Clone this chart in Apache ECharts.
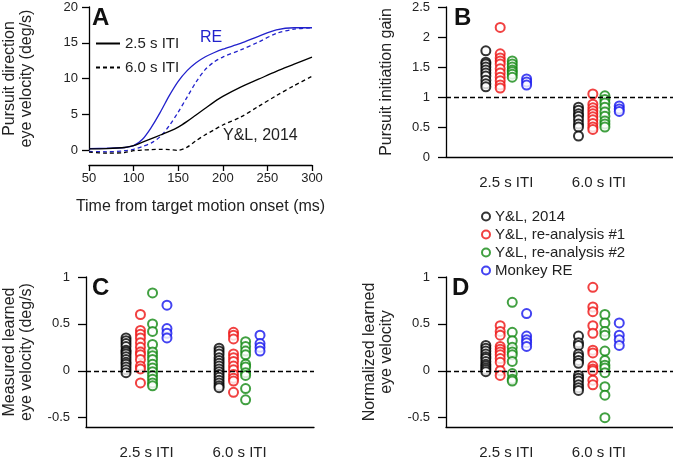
<!DOCTYPE html>
<html>
<head>
<meta charset="utf-8">
<script src="https://cdn.jsdelivr.net/npm/echarts@6/dist/echarts.min.js"></script>
<style>
html, body { margin: 0; padding: 0; background: #fff; }
#chart { width: 673px; height: 460px; }
</style>
</head>
<body>
<div id="chart"></div>
<script>
// panel A: eye velocity traces (deg/s) against time from motion onset (ms)
const timeMs = [50, 70, 90, 100, 110, 120, 130, 140, 150, 160, 170, 180, 190, 200, 220, 240, 260, 280, 300];
const reVel25 = [0.2, 0.25, 0.35, 0.6, 1.5, 3.2, 5.3, 7.6, 9.6, 11.1, 12.2, 13.0, 13.6, 14.1, 14.9, 15.9, 16.8, 17.1, 17.1];
const reVel60 = [-0.2, -0.25, -0.1, 0.1, 0.5, 1.0, 1.9, 3.4, 5.3, 7.4, 9.5, 11.2, 12.3, 13.0, 14.0, 15.1, 16.3, 16.9, 17.1];
const ylVel25 = [0.15, 0.2, 0.35, 0.6, 1.1, 1.6, 2.1, 2.6, 3.2, 4.0, 4.9, 5.8, 6.7, 7.5, 8.8, 9.9, 11.0, 12.0, 13.0];
const ylVel60 = [-0.3, -0.45, -0.35, -0.1, 0.0, 0.05, 0.1, 0.05, -0.05, 0.4, 1.3, 2.1, 2.8, 3.5, 4.6, 6.1, 7.6, 9.0, 10.3];

const itiLabels = ['2.5 s ITI', '6.0 s ITI'];
const groupNames = ['Y&L, 2014', 'Y&L, re-analysis #1', 'Y&L, re-analysis #2', 'Monkey RE'];

// panel B: pursuit initiation gain, [2.5 s ITI, 6.0 s ITI]
const gainYL = [[1.77, 1.58, 1.55, 1.5, 1.45, 1.4, 1.35, 1.28, 1.22, 1.17], [0.83, 0.78, 0.72, 0.68, 0.62, 0.55, 0.5, 0.35]];
const gainRe1 = [[2.16, 1.72, 1.65, 1.6, 1.55, 1.47, 1.4, 1.33, 1.27, 1.2, 1.15], [1.05, 0.88, 0.82, 0.77, 0.72, 0.67, 0.62, 0.56, 0.5, 0.46]];
const gainRe2 = [[1.6, 1.55, 1.5, 1.45, 1.42, 1.38, 1.33], [1.02, 0.96, 0.9, 0.83, 0.75, 0.68, 0.6, 0.55, 0.5]];
const gainMonkey = [[1.3, 1.25, 1.2], [0.85, 0.8, 0.76]];

// panel C: measured learned eye velocity (deg/s)
const measYL = [[0.35, 0.32, 0.29, 0.26, 0.22, 0.2, 0.18, 0.15, 0.12, 0.09, 0.07, 0.04, 0.01, -0.02],
  [0.24, 0.21, 0.18, 0.14, 0.11, 0.08, 0.05, 0.02, -0.01, -0.04, -0.07, -0.1, -0.13, -0.16, -0.18]];
const measRe1 = [[0.6, 0.43, 0.39, 0.35, 0.3, 0.25, 0.2, 0.17, 0.12, 0.05, 0.02, -0.13],
  [0.41, 0.38, 0.34, 0.18, 0.14, 0.1, 0.05, 0.01, -0.04, -0.08, -0.11, -0.23]];
const measRe2 = [[0.83, 0.5, 0.42, 0.28, 0.2, 0.16, 0.12, 0.07, 0.03, -0.01, -0.05, -0.09, -0.13, -0.16],
  [0.31, 0.26, 0.21, 0.17, 0.07, 0.04, -0.02, -0.05, -0.19, -0.31]];
const measMonkey = [[0.7, 0.45, 0.4, 0.35], [0.38, 0.29, 0.25, 0.21]];

// panel D: normalized learned eye velocity
const normYL = [[0.27, 0.24, 0.21, 0.18, 0.15, 0.13, 0.1, 0.07, 0.05, 0.03, 0.01, -0.01],
  [0.37, 0.3, 0.27, 0.18, 0.15, 0.11, 0.08, -0.05, -0.08, -0.11, -0.15, -0.18, -0.21]];
const normRe1 = [[0.48, 0.42, 0.38, 0.26, 0.23, 0.2, 0.17, 0.13, 0.09, 0.0, -0.05],
  [0.89, 0.68, 0.63, 0.48, 0.4, 0.22, 0.19, 0.05, 0.02, 0.0, -0.1, -0.15]];
const normRe2 = [[0.73, 0.41, 0.32, 0.25, 0.2, 0.17, 0.1, -0.03, -0.09, -0.11],
  [0.6, 0.51, 0.42, 0.38, 0.21, 0.11, 0.06, 0.03, -0.02, -0.17, -0.26, -0.5]];
const normMonkey = [[0.61, 0.37, 0.33, 0.3, 0.26], [0.51, 0.38, 0.33, 0.27]];

const groupColors = ['#000000', '#ee1111', '#118811', '#1414ee'];
const groupShift = [-0.22, -0.065, 0.065, 0.22];
const reBlue = '#2222cc';
const font = 'Liberation Sans';
const axisLine = { lineStyle: { color: '#000', width: 1.3 } };

function pairs(ys) {
  return timeMs.map((t, i) => [t, ys[i]]);
}

function dots(vals, g) {
  const out = [];
  vals.forEach((list, c) => list.forEach(v => out.push([c + 1 + groupShift[g], v])));
  return out;
}

function lineSeries(name, ys, color, dashed) {
  return {
    name: name, type: 'line', xAxisIndex: 0, yAxisIndex: 0,
    data: pairs(ys), smooth: 0.3, symbol: 'none', clip: false,
    lineStyle: { color: color, width: 1.3, type: dashed ? [4, 3] : 'solid' },
    itemStyle: { color: color }
  };
}

function scatterPanel(idx, sets, refY) {
  return sets.map((vals, g) => {
    const s = {
      name: groupNames[g], type: 'scatter', xAxisIndex: idx, yAxisIndex: idx,
      data: dots(vals, g), symbol: 'emptyCircle', symbolSize: 9,
      itemStyle: { color: groupColors[g], borderWidth: 1.3 }
    };
    if (g === 0) {
      s.markLine = {
        silent: true, symbol: ['none', 'none'], label: { show: false },
        lineStyle: { color: '#000', type: [5, 3], width: 1.3 },
        data: [{ yAxis: refY }]
      };
    }
    return s;
  });
}

function catAxis(idx) {
  return {
    type: 'value', gridIndex: idx, min: 0.35, max: 2.8,
    axisLine: Object.assign({ onZero: false }, axisLine),
    axisTick: { show: false }, splitLine: { show: false },
    axisLabel: {
      customValues: [1, 2], formatter: v => itiLabels[Math.round(v) - 1],
      fontSize: 15, color: '#222', margin: 18
    }
  };
}

function valAxis(idx, min, max, ticks, name) {
  return {
    type: 'value', gridIndex: idx, min: min, max: max,
    axisLine: Object.assign({ onZero: false }, axisLine),
    axisTick: { length: 8, customValues: ticks, lineStyle: { color: '#000', width: 1.3 } },
    axisLabel: { customValues: ticks, fontSize: 13, color: '#222', margin: 16 },
    splitLine: { show: false },
    name: name, nameLocation: 'middle', nameRotate: 90, nameGap: 51,
    nameTextStyle: { fontSize: 16, color: '#222', lineHeight: 17 }
  };
}

const chart = echarts.init(document.getElementById('chart'), null, { renderer: 'canvas' });

chart.setOption({
  animation: false,
  textStyle: { fontFamily: font },
  grid: [
    { left: 88, top: 7, width: 224, height: 143 },
    { left: 446, top: 7, right: 0, height: 150 },
    { left: 86, top: 277, width: 228, height: 150 },
    { left: 446, top: 277, right: 0, height: 150 }
  ],
  xAxis: [
    {
      type: 'value', gridIndex: 0, min: 50, max: 300, interval: 50, offset: 15,
      axisLine: Object.assign({ onZero: false }, axisLine),
      axisTick: { length: 6, lineStyle: { color: '#000', width: 1.3 } },
      axisLabel: { fontSize: 13, color: '#222', margin: 7 },
      splitLine: { show: false },
      name: 'Time from target motion onset (ms)', nameLocation: 'middle', nameGap: 34,
      nameTextStyle: { fontSize: 16, color: '#222' }
    },
    catAxis(1), catAxis(2), catAxis(3)
  ],
  yAxis: [
    {
      type: 'value', gridIndex: 0, min: 0, max: 20, interval: 5,
      axisLine: Object.assign({ onZero: false }, axisLine),
      axisTick: { length: 7, lineStyle: { color: '#000', width: 1.3 } },
      axisLabel: { fontSize: 13, color: '#222', margin: 11 },
      splitLine: { show: false },
      name: 'Pursuit direction\neye velocity (deg/s)', nameLocation: 'middle', nameRotate: 90, nameGap: 54,
      nameTextStyle: { fontSize: 16, color: '#222', lineHeight: 17 }
    },
    valAxis(1, 0, 2.5, [0, 0.5, 1, 1.5, 2, 2.5], 'Pursuit initiation gain'),
    valAxis(2, -0.6, 1, [-0.5, 0, 0.5, 1], 'Measured learned\neye velocity (deg/s)'),
    valAxis(3, -0.6, 1, [-0.5, 0, 0.5, 1], 'Normalized learned\neye velocity')
  ],
  legend: [
    {
      data: ['2.5 s ITI', '6.0 s ITI'], orient: 'vertical', left: 95, top: 36, padding: 0,
      itemWidth: 24, itemHeight: 12, itemGap: 9,
      itemStyle: { opacity: 0 },
      textStyle: { fontSize: 15, color: '#222' }
    },
    {
      data: groupNames, orient: 'vertical', left: 481, top: 209, padding: 0,
      itemWidth: 8, itemHeight: 8, itemGap: 3,
      textStyle: { fontSize: 15, color: '#222' }
    }
  ],
  graphic: [
    { type: 'text', left: 92, top: 6, style: { text: 'A', font: 'bold 24px ' + font, fill: '#111' } },
    { type: 'text', left: 454, top: 6, style: { text: 'B', font: 'bold 24px ' + font, fill: '#111' } },
    { type: 'text', left: 92, top: 276, style: { text: 'C', font: 'bold 24px ' + font, fill: '#111' } },
    { type: 'text', left: 452, top: 276, style: { text: 'D', font: 'bold 24px ' + font, fill: '#111' } },
    { type: 'text', left: 200, top: 30, style: { text: 'RE', font: '16px ' + font, fill: reBlue } },
    { type: 'text', left: 223, top: 128, style: { text: 'Y&L, 2014', font: '16px ' + font, fill: '#222' } }
  ],
  series: [
    lineSeries('RE 2.5', reVel25, reBlue, false),
    lineSeries('RE 6.0', reVel60, reBlue, true),
    lineSeries('2.5 s ITI', ylVel25, '#000', false),
    lineSeries('6.0 s ITI', ylVel60, '#000', true)
  ].concat(
    scatterPanel(1, [gainYL, gainRe1, gainRe2, gainMonkey], 1),
    scatterPanel(2, [measYL, measRe1, measRe2, measMonkey], 0),
    scatterPanel(3, [normYL, normRe1, normRe2, normMonkey], 0)
  )
});
</script>
</body>
</html>
